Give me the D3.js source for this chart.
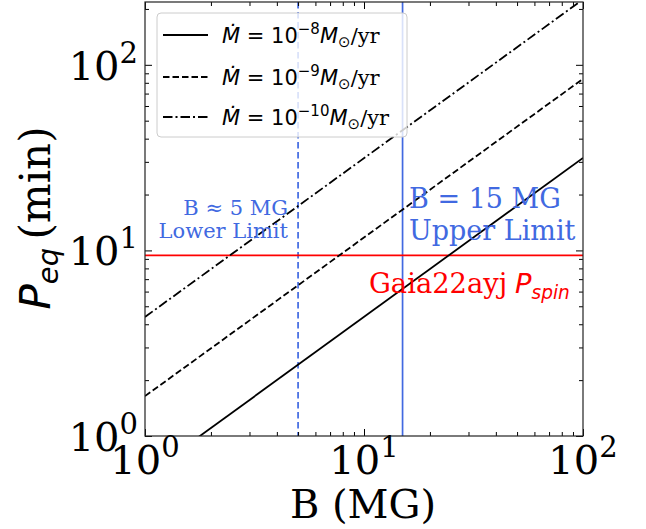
<!DOCTYPE html>
<html>
<head>
<meta charset="utf-8">
<script src="https://cdn.jsdelivr.net/npm/d3@7"></script>
<style>
  html, body { margin: 0; padding: 0; background: #fff; }
  svg { display: block; }
</style>
</head>
<body>
<svg id="chart" width="646" height="529"></svg>
<script>
// ---- data ----
const B_MG = [1, 100];                     // magnetic field, MG
const Peq_Mdot1e8 = [0.61, 31.5];          // P_eq (min) for Mdot = 1e-8 Msun/yr
const Peq_Mdot1e9 = [1.64, 84];            // P_eq (min) for Mdot = 1e-9 Msun/yr
const Peq_Mdot1e10 = [4.38, 225];          // P_eq (min) for Mdot = 1e-10 Msun/yr
const mdotExponents = ["\u22128", "\u22129", "\u221210"];
const xTickExps = [0, 1, 2];
const yTickExps = [0, 1, 2];
const B_lowerLimit = 5;
const B_upperLimit = 15;
const P_spin = 9.4;
const xDomain = [1, 100];
const yDomain = [1, 218];

const series = [
  { vals: Peq_Mdot1e8, dash: null, exp: mdotExponents[0] },
  { vals: Peq_Mdot1e9, dash: "6.5,3", exp: mdotExponents[1] },
  { vals: Peq_Mdot1e10, dash: "9.5,3,2,3", exp: mdotExponents[2] }
];

// ---- layout ----
const svg = d3.select("#chart");
const L = 145, R = 583, T = 2, Bt = 436;
const x = d3.scaleLog().domain(xDomain).range([L, R]);
const y = d3.scaleLog().domain(yDomain).range([Bt, T]);

const SERIF = "'DejaVu Serif', serif";
const SANS = "'DejaVu Sans', sans-serif";
const BLUE = "#4169e1";
const RED = "#ff0000";

svg.append("defs").append("clipPath").attr("id", "clip")
  .append("rect").attr("x", L).attr("y", T).attr("width", R - L).attr("height", Bt - T);

const plot = svg.append("g").attr("clip-path", "url(#clip)");

// vertical limit lines
plot.append("line")
  .attr("x1", x(B_lowerLimit)).attr("x2", x(B_lowerLimit))
  .attr("y1", T).attr("y2", Bt)
  .attr("stroke", BLUE).attr("stroke-width", 1.7).attr("stroke-dasharray", "6.5,3.5");
plot.append("line")
  .attr("x1", x(B_upperLimit)).attr("x2", x(B_upperLimit))
  .attr("y1", T).attr("y2", Bt)
  .attr("stroke", BLUE).attr("stroke-width", 1.7);

// spin period line
plot.append("line")
  .attr("x1", L).attr("x2", R)
  .attr("y1", y(P_spin)).attr("y2", y(P_spin))
  .attr("stroke", RED).attr("stroke-width", 1.7);

// P_eq lines
const line = d3.line().x(d => x(d[0])).y(d => y(d[1]));
series.forEach(s => {
  plot.append("path")
    .datum(B_MG.map((b, i) => [b, s.vals[i]]))
    .attr("d", line)
    .attr("fill", "none")
    .attr("stroke", "#000")
    .attr("stroke-width", 1.8)
    .attr("stroke-dasharray", s.dash);
});

// ---- axes with inward ticks ----
function minorTicks(dom) {
  const out = [];
  const lo = Math.floor(Math.log10(dom[0])), hi = Math.ceil(Math.log10(dom[1]));
  for (let e = lo; e <= hi; e++) for (let m = 2; m <= 9; m++) {
    const v = m * Math.pow(10, e);
    if (v >= dom[0] && v <= dom[1]) out.push(v);
  }
  return out;
}
const xMaj = xTickExps.map(e => Math.pow(10, e));
const yMaj = yTickExps.map(e => Math.pow(10, e)).filter(v => v <= yDomain[1]);

function addAxis(gen, tr, vals, size) {
  svg.append("g").attr("transform", tr)
    .call(gen.tickValues(vals).tickSize(size).tickFormat(""))
    .call(g => g.select(".domain").remove())
    .call(g => g.selectAll("line").attr("stroke", "#000").attr("stroke-width", 1));
}
addAxis(d3.axisBottom(x), `translate(0,${Bt})`, xMaj, -7);
addAxis(d3.axisBottom(x), `translate(0,${Bt})`, minorTicks(xDomain), -4);
addAxis(d3.axisTop(x), `translate(0,${T})`, xMaj, -7);
addAxis(d3.axisTop(x), `translate(0,${T})`, minorTicks(xDomain), -4);
addAxis(d3.axisLeft(y), `translate(${L},0)`, yMaj, -7);
addAxis(d3.axisLeft(y), `translate(${L},0)`, minorTicks(yDomain), -4);
addAxis(d3.axisRight(y), `translate(${R},0)`, yMaj, -7);
addAxis(d3.axisRight(y), `translate(${R},0)`, minorTicks(yDomain), -4);

svg.append("rect").attr("x", L).attr("y", T).attr("width", R - L).attr("height", Bt - T)
  .attr("fill", "none").attr("stroke", "#222").attr("stroke-width", 1.2);

// tick labels
function powLabel(sel, exp) {
  sel.append("tspan").text("10");
  sel.append("tspan").attr("dy", -17).attr("font-size", 29).text(exp);
}
xTickExps.forEach(e => {
  const t = svg.append("text").attr("x", x(Math.pow(10, e))).attr("y", 474)
    .attr("text-anchor", "middle").attr("font-family", SERIF).attr("font-size", 40);
  powLabel(t, e);
});
yTickExps.forEach(e => {
  const t = svg.append("text").attr("x", L - 7).attr("y", y(Math.pow(10, e)) + 15)
    .attr("text-anchor", "end").attr("font-family", SERIF).attr("font-size", 40);
  powLabel(t, e);
});

// axis labels
svg.append("text").attr("x", (L + R) / 2 - 1).attr("y", 518)
  .attr("text-anchor", "middle").attr("font-family", SERIF).attr("font-size", 40)
  .text("B (MG)");

const yl = svg.append("text")
  .attr("transform", `translate(50,218) rotate(-90)`)
  .attr("text-anchor", "middle").attr("font-size", 42);
yl.append("tspan").attr("font-family", SANS).attr("font-style", "italic").text("P");
yl.append("tspan").attr("font-family", SANS).attr("font-style", "italic").attr("font-size", 29).attr("dy", 8).text("eq");
yl.append("tspan").attr("font-family", SERIF).attr("dy", -8).text("\u2009(min)");

// annotations
const lowTxt = svg.append("text").attr("font-family", SERIF).attr("font-size", 21)
  .attr("fill", BLUE).attr("text-anchor", "end");
lowTxt.append("tspan").attr("x", 288).attr("y", 215).text("B \u2248 5 MG");
lowTxt.append("tspan").attr("x", 288).attr("y", 238).text("Lower Limit");

const upTxt = svg.append("text").attr("font-family", SERIF).attr("font-size", 27)
  .attr("fill", BLUE).attr("text-anchor", "start");
upTxt.append("tspan").attr("x", 409).attr("y", 208).text("B = 15 MG");
upTxt.append("tspan").attr("x", 409).attr("y", 240).text("Upper Limit");

// red label, fitted to span x = 369..570 with baseline at y = 293
const spinG = svg.append("g");
const spinTxt = spinG.append("text").attr("x", 0).attr("y", 0)
  .attr("font-size", 28).attr("fill", RED).attr("text-anchor", "start");
spinTxt.append("tspan").attr("font-family", SERIF).text("Gaia22ayj");
spinTxt.append("tspan").attr("font-family", SANS).attr("font-style", "italic").attr("dx", 8).text("P");
spinTxt.append("tspan").attr("font-family", SANS).attr("font-style", "italic")
  .attr("font-size", 19).attr("dy", 6).text("spin");
const sb = spinTxt.node().getBBox();
const sScale = sb.width > 0 ? 201 / sb.width : 1;
spinG.attr("transform", `translate(${369 - sb.x * sScale},293) scale(${sScale})`);

// legend
const lg = svg.append("g");
lg.append("rect").attr("x", 157).attr("y", 13).attr("width", 250).attr("height", 124)
  .attr("rx", 4).attr("fill", "#fff").attr("fill-opacity", 0.8)
  .attr("stroke", "#cccccc").attr("stroke-width", 1);
const rowY = [35, 77, 117];
series.forEach((s, i) => {
  lg.append("line").attr("x1", 163).attr("x2", 208).attr("y1", rowY[i]).attr("y2", rowY[i])
    .attr("stroke", "#000").attr("stroke-width", 1.8).attr("stroke-dasharray", s.dash);
  const t = lg.append("text").attr("x", 222).attr("y", rowY[i] + 8).attr("font-size", 21);
  t.append("tspan").attr("font-family", SANS).attr("font-style", "italic").text("\u1E40");
  t.append("tspan").attr("font-family", SANS).text(" = 10");
  t.append("tspan").attr("font-family", SANS).attr("font-size", 15).attr("dy", -9).text(s.exp);
  t.append("tspan").attr("font-family", SANS).attr("font-style", "italic").attr("dy", 9).text("M");
  t.append("tspan").attr("font-family", SANS).attr("font-size", 15).attr("dy", 4).text("\u2299");
  t.append("tspan").attr("font-family", SERIF).attr("dy", -4).text("/yr");
});
</script>
</body>
</html>
